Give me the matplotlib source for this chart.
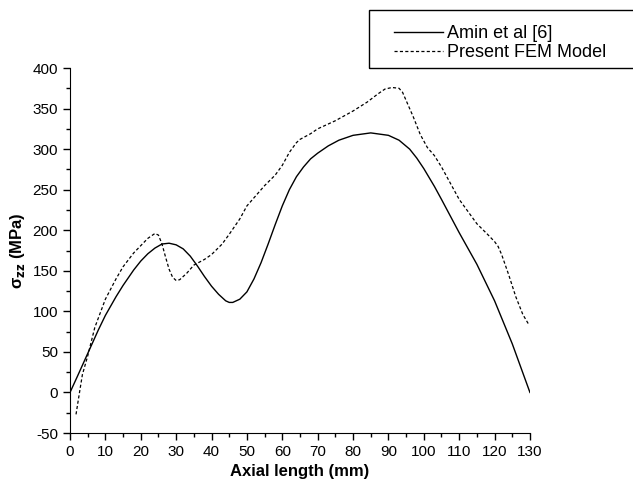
import matplotlib.pyplot as plt
from matplotlib.patches import Rectangle
from matplotlib.ticker import MultipleLocator

plt.rcParams['font.family'] = ['Liberation Sans', 'DejaVu Sans']
plt.rcParams['axes.unicode_minus'] = False

# Amin et al [6]
amin_x = [0, 2, 5, 8, 10, 13, 15, 18, 20, 22, 24, 26, 28, 30, 32, 34, 36, 38, 40, 42, 44, 45, 46, 48,
          50, 52, 54, 56, 58, 60, 62, 64, 66, 68, 70, 73, 76, 80, 85, 90, 93, 96, 98, 100, 103, 105,
          110, 115, 120, 125, 130]
amin_y = [0, 19, 48, 77, 95, 118, 132, 151, 162, 171, 178, 183, 184, 182, 177, 168, 156, 143, 131, 121,
          113, 111, 111, 115, 124, 140, 160, 183, 207, 230, 250, 266, 278, 288, 295, 304, 311, 317, 320,
          317, 311, 300, 289, 276, 254, 238, 197, 158, 113, 60, 0]

# Present FEM Model
fem_x = [1.7, 2.5, 3.5, 5, 7, 10, 13, 15, 18, 20, 22, 24, 25, 26, 27, 28, 29, 30, 31, 33, 35, 38, 40,
         43, 45, 48, 50, 53, 55, 58, 60, 62, 64, 65, 68, 70, 75, 80, 84, 87, 89, 91, 93, 94, 95, 97,
         99, 101, 103, 105, 108, 110, 113, 115, 118, 120, 121, 122, 124, 126, 128, 129.5]
fem_y = [-27, -5, 22, 45, 80, 115, 140, 155, 172, 181, 190, 196, 194, 183, 167, 152, 142, 138, 139, 147,
         157, 164, 170, 183, 195, 214, 230, 245, 255, 268, 280, 296, 308, 312, 319, 325, 335, 347, 358,
         368, 374, 376, 375, 370, 360, 340, 318, 302, 292, 278, 254, 238, 220, 208, 195, 186, 180, 170,
         145, 118, 96, 85]

fig = plt.figure(figsize=(6.33, 4.9), dpi=100)
ax = fig.add_axes([0.1106, 0.1163, 0.7266, 0.7449])

ax.plot(amin_x, amin_y, color='black', lw=1.0, label='Amin et al [6]')
ax.plot(fem_x, fem_y, color='black', lw=0.9, linestyle=(0, (2.5, 1.8)), label='Present FEM Model')

ax.set_xlim(0, 130)
ax.set_ylim(-50, 400)
ax.xaxis.set_major_locator(MultipleLocator(10))
ax.xaxis.set_minor_locator(MultipleLocator(5))
ax.yaxis.set_major_locator(MultipleLocator(50))
ax.yaxis.set_minor_locator(MultipleLocator(25))
ax.tick_params(which='major', direction='out', length=5, width=1, labelsize=11)
ax.tick_params(which='minor', direction='out', length=3, width=1)
ax.spines['top'].set_visible(False)
ax.spines['right'].set_visible(False)

ax.set_xlabel('Axial length (mm)', fontsize=12, fontweight='bold', labelpad=4)
ax.set_ylabel('\u03c3$_{\\mathbf{zz}}$ (MPa)', fontsize=12, fontweight='bold', labelpad=4)

# legend frame runs off the right edge of the figure
fig.patches.append(Rectangle((369 / 633, 1 - 68 / 490), 300 / 633, 58 / 490,
                             transform=fig.transFigure, fill=False, edgecolor='black', lw=1.0))
leg = fig.legend(loc='center left', bbox_to_anchor=(394 / 633, 1 - 43 / 490),
                 fontsize=13, frameon=False, handlelength=2.7, borderpad=0,
                 labelspacing=0.1, handletextpad=0.25, borderaxespad=0)

fig.savefig('out.png', dpi=100)
